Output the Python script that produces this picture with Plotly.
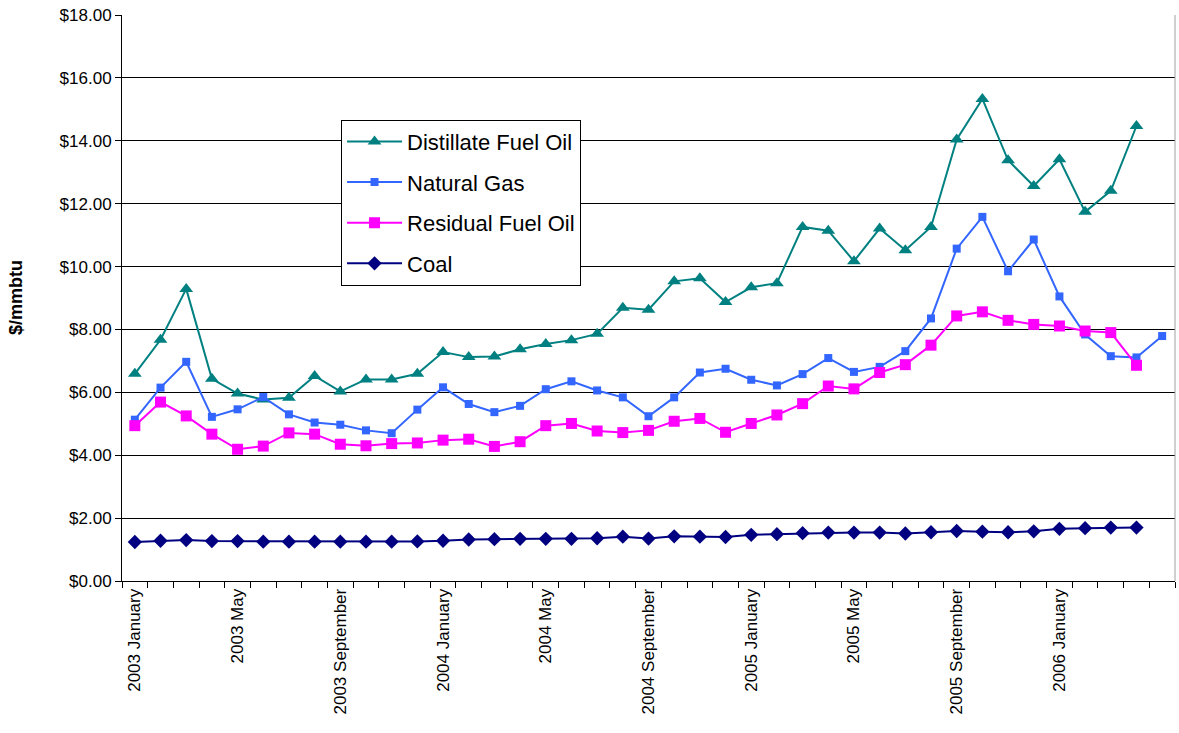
import plotly.graph_objects as go

years = [2003, 2004, 2005, 2006]
month_names = ["January", "February", "March", "April", "May", "June", "July",
               "August", "September", "October", "November", "December"]
months = [f"{y} {m}" for y in years for m in month_names][:41]  # 2003 January .. 2006 May

distillate = [6.59, 7.67, 9.29, 6.43, 5.96, 5.77, 5.83, 6.52, 6.03, 6.41, 6.41, 6.59,
              7.28, 7.12, 7.14, 7.37, 7.54, 7.66, 7.86, 8.69, 8.63, 9.53, 9.63, 8.87,
              9.34, 9.47, 11.26, 11.14, 10.17, 11.21, 10.52, 11.26, 14.04, 15.33, 13.38,
              12.56, 13.41, 11.74, 12.41, 14.47]
natural_gas = [5.13, 6.15, 6.97, 5.22, 5.46, 5.85, 5.30, 5.04, 4.97, 4.79, 4.70, 5.45,
               6.16, 5.63, 5.37, 5.57, 6.10, 6.35, 6.06, 5.84, 5.24, 5.84, 6.63, 6.75,
               6.40, 6.22, 6.58, 7.09, 6.65, 6.81, 7.31, 8.35, 10.57, 11.58, 9.85, 10.86,
               9.05, 7.84, 7.15, 7.11, 7.79]
residual = [4.94, 5.69, 5.25, 4.67, 4.19, 4.29, 4.71, 4.67, 4.35, 4.30, 4.37, 4.39,
            4.48, 4.51, 4.28, 4.43, 4.94, 5.01, 4.77, 4.72, 4.79, 5.08, 5.17, 4.73,
            5.01, 5.28, 5.64, 6.20, 6.11, 6.63, 6.88, 7.50, 8.43, 8.56, 8.29, 8.16,
            8.11, 7.95, 7.90, 6.86]
coal = [1.24, 1.28, 1.30, 1.27, 1.27, 1.25, 1.25, 1.25, 1.25, 1.25, 1.25, 1.26,
        1.28, 1.32, 1.33, 1.34, 1.34, 1.34, 1.36, 1.41, 1.35, 1.42, 1.41, 1.40,
        1.47, 1.49, 1.52, 1.54, 1.54, 1.54, 1.51, 1.55, 1.59, 1.57, 1.55, 1.58,
        1.66, 1.68, 1.70, 1.70]

label_step = 4
labelled_months = 37  # labels shown from 2003 January to 2006 January
y_ticks = [0, 2, 4, 6, 8, 10, 12, 14, 16, 18]
y_ticktext = [f"${v:.2f}" for v in y_ticks]

FONT = "Arial, Liberation Sans, sans-serif"

idx = list(range(len(months)))

series = [
    ("Distillate Fuel Oil", distillate, "#008080", "triangle-up", 12),
    ("Natural Gas", natural_gas, "#3366FF", "square", 8),
    ("Residual Fuel Oil", residual, "#FF00FF", "square", 11),
    ("Coal", coal, "#000080", "diamond", 11),
]

fig = go.Figure()
for i, (name, vals, col, sym, sz) in enumerate(series):
    fig.add_trace(go.Scatter(
        x=idx[:len(vals)], y=vals, name=name, mode="lines+markers",
        line=dict(color=col, width=2),
        marker=dict(symbol=sym, size=sz, color=col, line=dict(width=0)),
        legendgroup=f"g{i}",
    ))

tickvals = idx[:labelled_months:label_step]
ticktext = months[:labelled_months:label_step]

fig.update_layout(
    width=1179, height=733,
    margin=dict(l=122, r=4, t=15, b=152),
    paper_bgcolor="white", plot_bgcolor="white",
    font=dict(family=FONT, color="black"),
    showlegend=True,
    legend=dict(
        x=0.208, y=0.815, xanchor="left", yanchor="top",
        bgcolor="white", bordercolor="black", borderwidth=1,
        font=dict(size=22, family=FONT, color="black"),
        tracegroupgap=9, itemwidth=55,
    ),
    xaxis=dict(
        range=[-0.5, len(months) - 0.5], automargin=False,
        tickmode="array", tickvals=tickvals, ticktext=ticktext,
        tickangle=-90, tickfont=dict(size=17, family=FONT, color="black"),
        ticks="", showgrid=False, zeroline=False,
        showline=True, linecolor="black", linewidth=1,
        ticklabeloverflow="allow",
        minor=dict(tickmode="linear", tick0=-0.5, dtick=1, ticks="outside",
                   ticklen=6, tickcolor="black", tickwidth=1, showgrid=False),
    ),
    yaxis=dict(
        range=[0, 18], automargin=False,
        tickmode="array", tickvals=y_ticks, ticktext=y_ticktext,
        tickfont=dict(size=17, family=FONT, color="black"),
        ticks="outside", ticklen=6, tickcolor="black",
        ticklabeloverflow="allow",
        showgrid=True, gridcolor="black", gridwidth=1,
        zeroline=False, showline=True, linecolor="black", linewidth=1,
    ),
    annotations=[dict(
        text="<b>$/mmbtu</b>", xref="paper", yref="paper",
        x=(16 - 122) / 1053, y=0.5, xanchor="center", yanchor="middle",
        textangle=-90, showarrow=False,
        font=dict(size=18, family=FONT, color="black"),
    )],
    shapes=[
        dict(type="line", xref="paper", yref="paper", x0=1, x1=1, y0=0, y1=1,
             line=dict(color="#A0A0A0", width=1)),
    ],
)

# remove the page's default 8px body margin so the figure sits at the window origin
fig.write_html("out.html",
               config={"displayModeBar": False},
               post_script="document.body.style.margin='0';document.body.style.overflow='hidden';")
